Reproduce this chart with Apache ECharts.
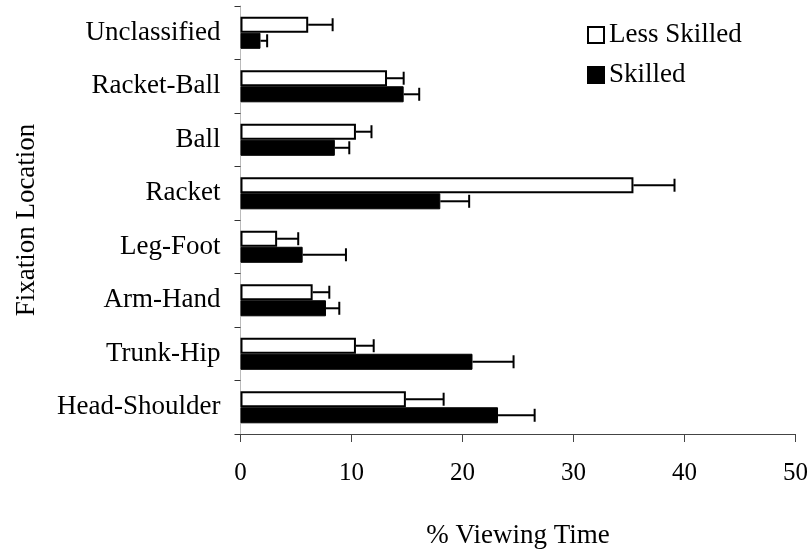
<!DOCTYPE html>
<html>
<head>
<meta charset="utf-8">
<script src="https://cdn.jsdelivr.net/npm/echarts@6/dist/echarts.min.js"></script>
<style>html,body{margin:0;padding:0;background:#fff;}#c{width:811px;height:554px;}</style>
</head>
<body>
<div id="c"></div>
<script>
var categories = ['Unclassified','Racket-Ball','Ball','Racket','Leg-Foot','Arm-Hand','Trunk-Hip','Head-Shoulder'];
var lessSkilled = [6.1, 13.2, 10.4, 35.4, 3.3, 6.5, 10.4, 14.9];
var lessSkilledErr = [2.2, 1.5, 1.4, 3.7, 1.9, 1.5, 1.6, 3.4];
var skilled = [1.8, 14.7, 8.5, 18.0, 5.6, 7.7, 20.9, 23.2];
var skilledErr = [0.6, 1.4, 1.3, 2.6, 3.9, 1.2, 3.7, 3.3];
var xTicks = [0, 10, 20, 30, 40, 50];

var FONT = 'Liberation Serif';
var chart = echarts.init(document.getElementById('c'));

function errSeries(name, means, errs, side) {
  var data = means.map(function (m, i) { return [m, i, m + errs[i]]; });
  return {
    type: 'custom',
    name: name + ' err',
    data: data,
    z: 10,
    silent: true,
    renderItem: function (params, api) {
      var m = api.value(0), cat = api.value(1), hi = api.value(2);
      var p0 = api.coord([m, cat]);
      var p1 = api.coord([hi, cat]);
      var band = api.size([0, 1])[1];
      var y = p0[1] + side * band * 0.15;
      var cap = 6.5;
      var st = { stroke: '#000', lineWidth: 2 };
      return {
        type: 'group',
        children: [
          { type: 'line', shape: { x1: p0[0], y1: y, x2: p1[0], y2: y }, style: st },
          { type: 'line', shape: { x1: p1[0], y1: y - cap, x2: p1[0], y2: y + cap }, style: st }
        ]
      };
    }
  };
}

chart.setOption({
  animation: false,
  textStyle: { fontFamily: FONT, color: '#000' },
  grid: { left: 240.5, right: 15, top: 6, bottom: 120, containLabel: false },
  legend: {
    data: ['Less Skilled', 'Skilled'],
    orient: 'vertical',
    left: 587,
    top: 21,
    padding: 0,
    icon: 'rect',
    itemWidth: 16,
    itemHeight: 16,
    itemGap: 12,
    textStyle: { fontFamily: FONT, fontSize: 27, color: '#000', lineHeight: 28 }
  },
  xAxis: {
    type: 'value',
    min: 0, max: 50, interval: 10,
    name: '% Viewing Time',
    nameLocation: 'middle',
    nameGap: 88,
    nameTextStyle: { fontFamily: FONT, fontSize: 27, color: '#000' },
    axisLine: { show: true, lineStyle: { color: '#444', width: 1 } },
    axisTick: { show: true, length: 8, lineStyle: { color: '#444' } },
    axisLabel: { fontFamily: FONT, fontSize: 25, color: '#000', margin: 27,
      formatter: function (v) { return xTicks.indexOf(v) >= 0 ? String(v) : ''; } },
    splitLine: { show: false }
  },
  yAxis: {
    type: 'category',
    data: categories,
    inverse: true,
    name: 'Fixation Location',
    nameLocation: 'middle',
    nameGap: 200,
    nameTextStyle: { fontFamily: FONT, fontSize: 27, color: '#000' },
    axisLine: { show: true, lineStyle: { color: '#bbb', width: 1 } },
    axisTick: { show: true, length: 6, lineStyle: { color: '#333' } },
    axisLabel: { fontFamily: FONT, fontSize: 27, color: '#000', margin: 20 }
  },
  series: [
    {
      name: 'Less Skilled', type: 'bar', data: lessSkilled,
      barGap: '0%', barCategoryGap: '40%',
      itemStyle: { color: '#fff', borderColor: '#000', borderWidth: 2 }
    },
    {
      name: 'Skilled', type: 'bar', data: skilled,
      barGap: '0%', barCategoryGap: '40%',
      itemStyle: { color: '#000', borderColor: '#000', borderWidth: 1 }
    },
    errSeries('Less Skilled', lessSkilled, lessSkilledErr, -1),
    errSeries('Skilled', skilled, skilledErr, 1)
  ]
});
</script>
</body>
</html>
